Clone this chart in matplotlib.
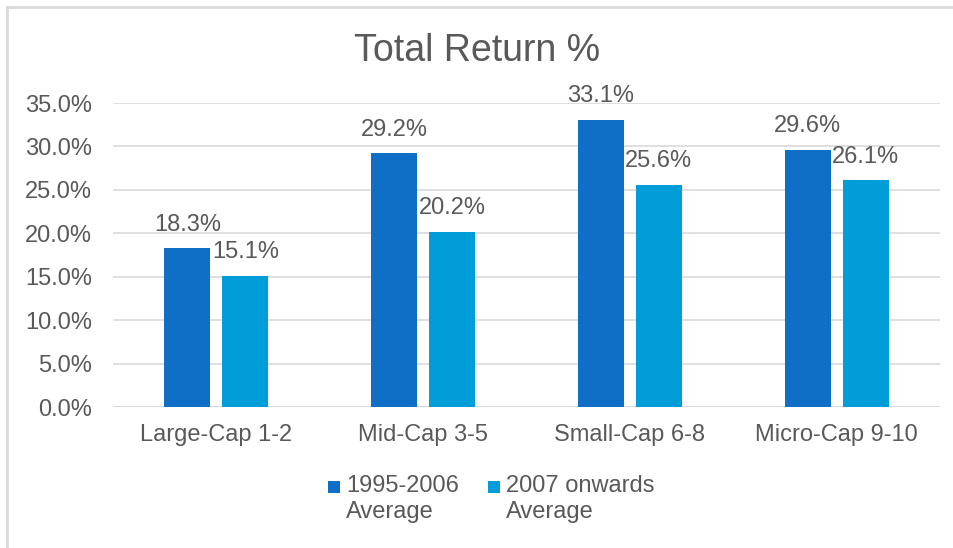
import matplotlib
matplotlib.use("Agg")
import matplotlib.pyplot as plt
import numpy as np
from matplotlib.lines import Line2D
from matplotlib.patches import Rectangle

# Data
categories = ["Large-Cap 1-2", "Mid-Cap 3-5", "Small-Cap 6-8", "Micro-Cap 9-10"]
early_avg = [18.3, 29.2, 33.1, 29.6]    # 1995-2006 Average
late_avg = [15.1, 20.2, 25.6, 26.1]     # 2007 onwards Average
series_names = ["1995-2006\nAverage", "2007 onwards\nAverage"]

plt.rcParams['font.family'] = ['Liberation Sans', 'DejaVu Sans']
TXT = '#595959'
BLUE = '#0F6FC6'
CYAN = '#009DD9'
W, H = 954, 548

fig = plt.figure(figsize=(W / 100, H / 100), dpi=100)
ax = fig.add_axes([113 / W, 1 - 407 / H, 827 / W, 304 / H])

x = np.arange(len(categories))
w = 0.222
off = 0.14
b1 = ax.bar(x - off, [v / 100 for v in early_avg], w, color=BLUE, zorder=3)
b2 = ax.bar(x + off, [v / 100 for v in late_avg], w, color=CYAN, zorder=3)

for bars, vals in ((b1, early_avg), (b2, late_avg)):
    for r, v in zip(bars, vals):
        ax.annotate(f"{v:.1f}%", (r.get_x() + r.get_width() / 2, r.get_height()),
                    xytext=(0, 9), textcoords='offset points',
                    ha='center', va='bottom', fontsize=17, color=TXT)

ax.set_xlim(-0.5, len(categories) - 0.5)
ax.set_ylim(0, 0.35)
yt = np.arange(0, 0.351, 0.05)
ax.set_yticks(yt)
ax.set_yticklabels([f"{t * 100:.1f}%" for t in yt])
ax.set_xticks(x)
ax.set_xticklabels(categories)
ax.tick_params(axis='both', length=0, labelsize=17, labelcolor=TXT)
ax.tick_params(axis='y', pad=15)
ax.tick_params(axis='x', pad=12)
ax.grid(axis='y', color='#D9D9D9', linewidth=1.2, zorder=0)
for s in ax.spines.values():
    s.set_visible(False)
ax.axhline(0, color='#D9D9D9', linewidth=1.2, zorder=1)

fig.text(0.5, 1 - 51 / H, "Total Return %", ha='center', va='center', fontsize=27, color=TXT)

# legend drawn by hand so the square sits next to the first line
for (sx, tx), c, name in zip(((328, 346), (488, 506)), (BLUE, CYAN), series_names):
    fig.add_artist(Rectangle((sx / W, 1 - 493 / H), 12 / W, 12 / H,
                             transform=fig.transFigure, color=c, linewidth=0))
    fig.text(tx / W, 1 - 475 / H, name, ha='left', va='top', fontsize=17,
             color=TXT, linespacing=1.25)

# chart border (top and left edges visible)
fig.add_artist(Line2D([0.007, 0.007], [0, 0.988], transform=fig.transFigure, color='#D9D9D9', linewidth=2))
fig.add_artist(Line2D([0.007, 1], [0.988, 0.988], transform=fig.transFigure, color='#D9D9D9', linewidth=2))

fig.savefig("out.png", dpi=100)
